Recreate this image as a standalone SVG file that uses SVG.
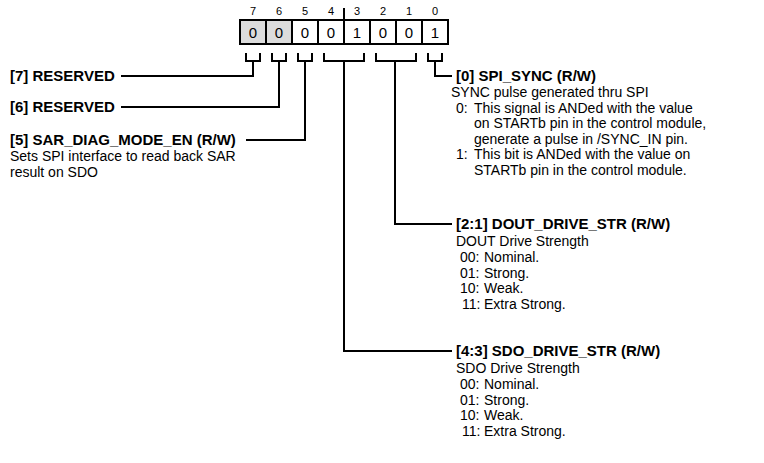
<svg xmlns="http://www.w3.org/2000/svg" width="764" height="463" viewBox="0 0 764 463">
<style>
text{font-family:"Liberation Sans",Arial,sans-serif;fill:#000}
.t{font-size:14px}
.b{font-size:15px;font-weight:bold}
.n{font-size:11px;text-anchor:middle}
.d{font-size:15px;text-anchor:middle}
.cell{stroke:#000;stroke-width:2;fill:#fff}
.res{fill:#dcdcdc}
.w{fill:none;stroke:#000;stroke-width:2}
</style>
<rect width="764" height="463" fill="#fff"/>
<g id="register">
<rect class="cell res" x="240" y="20" width="26" height="24"/>
<rect class="cell res" x="266" y="20" width="26" height="24"/>
<rect class="cell" x="292" y="20" width="26" height="24"/>
<rect class="cell" x="318" y="20" width="26" height="24"/>
<rect class="cell" x="344" y="20" width="26" height="24"/>
<rect class="cell" x="370" y="20" width="26" height="24"/>
<rect class="cell" x="396" y="20" width="26" height="24"/>
<rect class="cell" x="422" y="20" width="26" height="24"/>
<text class="n" x="253" y="15">7</text>
<text class="n" x="279" y="15">6</text>
<text class="n" x="305" y="15">5</text>
<text class="n" x="331" y="15">4</text>
<text class="n" x="357" y="15">3</text>
<text class="n" x="383" y="15">2</text>
<text class="n" x="409" y="15">1</text>
<text class="n" x="435" y="15">0</text>
<text class="d" x="253" y="38">0</text>
<text class="d" x="279" y="38">0</text>
<text class="d" x="305" y="38">0</text>
<text class="d" x="331" y="38">0</text>
<text class="d" x="357" y="38">1</text>
<text class="d" x="383" y="38">0</text>
<text class="d" x="409" y="38">0</text>
<text class="d" x="435" y="38">1</text>
<line class="w" x1="344" y1="8" x2="344" y2="20"/>
</g>
<g id="connectors">
<path class="w" d="M246 53V61H260V53M253 61V76H121"/>
<path class="w" d="M272 53V61H286V53M279 61V107H121"/>
<path class="w" d="M298 53V61H312V53M305 61V140H246"/>
<path class="w" d="M324 53V61H364V53M344 61V351H452"/>
<path class="w" d="M376 53V61H416V53M395 61V224H452"/>
<path class="w" d="M428 53V61H442V53M435 61V76H452"/>
</g>
<g id="bit7">
<text class="b" x="10" y="81">[7] RESERVED</text>
</g>
<g id="bit6">
<text class="b" x="10" y="112">[6] RESERVED</text>
</g>
<g id="bit5">
<text class="b" x="10" y="145">[5] SAR_DIAG_MODE_EN (R/W)</text>
<text class="t" x="10" y="161">Sets SPI interface to read back SAR</text>
<text class="t" x="10" y="177">result on SDO</text>
</g>
<g id="bit0">
<text class="b" x="456" y="81">[0] SPI_SYNC (R/W)</text>
<text class="t" x="451" y="97">SYNC pulse generated thru SPI</text>
<text class="t" x="456" y="113">0:</text>
<text class="t" x="474" y="113">This signal is ANDed with the value</text>
<text class="t" x="474" y="128">on STARTb pin in the control module,</text>
<text class="t" x="474" y="144">generate a pulse in /SYNC_IN pin.</text>
<text class="t" x="456" y="159">1:</text>
<text class="t" x="474" y="159">This bit is ANDed with the value on</text>
<text class="t" x="474" y="175">STARTb pin in the control module.</text>
</g>
<g id="bits2_1">
<text class="b" x="456" y="229">[2:1] DOUT_DRIVE_STR (R/W)</text>
<text class="t" x="456" y="246">DOUT Drive Strength</text>
<text class="t" x="460" y="262">00:</text><text class="t" x="484" y="262">Nominal.</text>
<text class="t" x="460" y="278">01:</text><text class="t" x="484" y="278">Strong.</text>
<text class="t" x="460" y="293">10:</text><text class="t" x="484" y="293">Weak.</text>
<text class="t" x="462" y="309">11:</text><text class="t" x="484" y="309">Extra Strong.</text>
</g>
<g id="bits4_3">
<text class="b" x="456" y="356">[4:3] SDO_DRIVE_STR (R/W)</text>
<text class="t" x="456" y="373">SDO Drive Strength</text>
<text class="t" x="460" y="389">00:</text><text class="t" x="484" y="389">Nominal.</text>
<text class="t" x="460" y="405">01:</text><text class="t" x="484" y="405">Strong.</text>
<text class="t" x="460" y="420">10:</text><text class="t" x="484" y="420">Weak.</text>
<text class="t" x="462" y="436">11:</text><text class="t" x="484" y="436">Extra Strong.</text>
</g>
</svg>
